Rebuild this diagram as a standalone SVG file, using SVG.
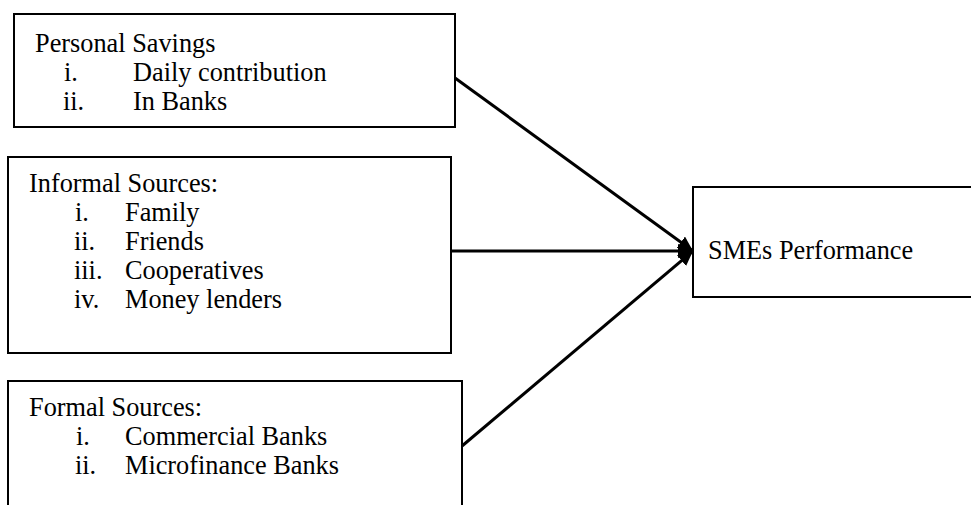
<svg xmlns="http://www.w3.org/2000/svg" width="971" height="505" viewBox="0 0 971 505">
  <style>
    .box { fill: #ffffff; stroke: #000000; stroke-width: 2; }
    .t { font-family: "Liberation Serif", "Times New Roman", serif; font-size: 26.3px; fill: #000000; }
    .conn { stroke: #000000; stroke-width: 3; fill: none; }
  </style>
  <defs>
    <marker id="arrow" viewBox="0 0 15 14" refX="15" refY="7" markerWidth="15" markerHeight="14" markerUnits="userSpaceOnUse" orient="auto">
      <path d="M0,0 L15,7 L0,14 z" fill="#000000"/>
    </marker>
  </defs>
  <rect x="0" y="0" width="971" height="505" fill="#ffffff"/>

  <g id="personal-savings">
    <rect class="box" x="14" y="14" width="441" height="113"/>
    <text class="t" x="35" y="52">Personal Savings</text>
    <text class="t" x="64" y="81">i.</text>
    <text class="t" x="133" y="81">Daily contribution</text>
    <text class="t" x="63" y="110">ii.</text>
    <text class="t" x="133" y="110">In Banks</text>
  </g>

  <g id="informal-sources">
    <rect class="box" x="8" y="157" width="443" height="196"/>
    <text class="t" x="29" y="192">Informal Sources:</text>
    <text class="t" x="75" y="221">i.</text>
    <text class="t" x="125" y="221">Family</text>
    <text class="t" x="74" y="250">ii.</text>
    <text class="t" x="125" y="250">Friends</text>
    <text class="t" x="74" y="279">iii.</text>
    <text class="t" x="125" y="279">Cooperatives</text>
    <text class="t" x="74" y="308">iv.</text>
    <text class="t" x="125" y="308">Money lenders</text>
  </g>

  <g id="formal-sources">
    <rect class="box" x="8" y="381" width="454" height="140"/>
    <text class="t" x="29" y="416">Formal Sources:</text>
    <text class="t" x="76" y="445">i.</text>
    <text class="t" x="125" y="445">Commercial Banks</text>
    <text class="t" x="75" y="474">ii.</text>
    <text class="t" x="125" y="474">Microfinance Banks</text>
  </g>

  <g id="smes-performance">
    <rect class="box" x="693" y="187" width="300" height="110"/>
    <text class="t" x="708" y="259">SMEs Performance</text>
  </g>

  <g id="connectors">
    <line class="conn" x1="455" y1="78" x2="693" y2="251" marker-end="url(#arrow)"/>
    <line class="conn" x1="451" y1="251" x2="693" y2="251" marker-end="url(#arrow)"/>
    <line class="conn" x1="462" y1="446" x2="693" y2="251" marker-end="url(#arrow)"/>
  </g>
</svg>
